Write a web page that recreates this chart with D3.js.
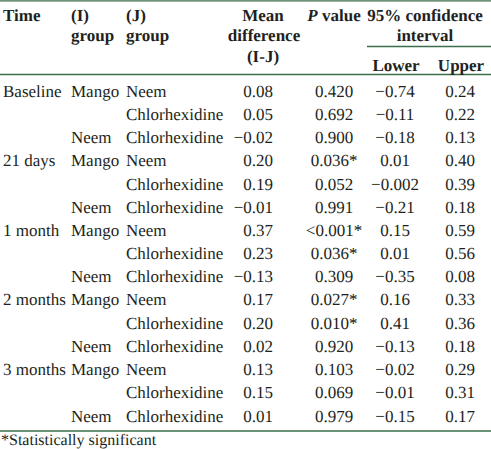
<!DOCTYPE html>
<html><head><meta charset="utf-8">
<script src="https://cdn.jsdelivr.net/npm/d3@7/dist/d3.min.js"></script>
<style>html,body{margin:0;padding:0;background:#fff;}svg{display:block;}</style>
</head><body>
<script>
const timeLabels = ["Baseline","","","21 days","","","1 month","","","2 months","","","3 months","",""];
const iGroups = ["Mango","","Neem","Mango","","Neem","Mango","","Neem","Mango","","Neem","Mango","","Neem"];
const jGroups = ["Neem","Chlorhexidine","Chlorhexidine","Neem","Chlorhexidine","Chlorhexidine","Neem","Chlorhexidine","Chlorhexidine","Neem","Chlorhexidine","Chlorhexidine","Neem","Chlorhexidine","Chlorhexidine"];
const meanDiff = ["0.08","0.05","\u22120.02","0.20","0.19","\u22120.01","0.37","0.23","\u22120.13","0.17","0.20","0.02","0.13","0.15","0.01"];
const pValues = ["0.420","0.692","0.900","0.036*","0.052","0.991","<0.001*","0.036*","0.309","0.027*","0.010*","0.920","0.103","0.069","0.979"];
const lowerCI = ["\u22120.74","\u22120.11","\u22120.18","0.01","\u22120.002","\u22120.21","0.15","0.01","\u22120.35","0.16","0.41","\u22120.13","\u22120.02","\u22120.01","\u22120.15"];
const upperCI = ["0.24","0.22","0.13","0.40","0.39","0.18","0.59","0.56","0.08","0.33","0.36","0.18","0.29","0.31","0.17"];
const footnote = "*Statistically significant";

const W = 491, H = 449;
const ink = "#231f20", rule = "#3b6e4a";
const FONT = "Liberation Serif, Times New Roman, serif";
const FS = 17;
const svg = d3.select("body").append("svg").attr("width", W).attr("height", H)
  .attr("text-rendering", "geometricPrecision");

const y = d3.scaleBand().domain(d3.range(timeLabels.length)).range([79.5, 427.5]);
const base = i => Math.round(y(i) + 17.2);

// rules
const line = (x1, x2, yy) => svg.append("line").attr("x1", x1).attr("x2", x2)
  .attr("y1", yy).attr("y2", yy).attr("stroke", rule).attr("stroke-width", 1.3);
line(0, W, 0.8);
line(367, W, 46.5);
line(0, W, 74.5);
line(0, W, 431);

// header
const hdr = (txt, x, yy, anchor) => svg.append("text").attr("x", x).attr("y", yy)
  .attr("font-family", FONT).attr("font-size", FS)
  .attr("text-anchor", anchor || "start").attr("fill", ink).attr("font-weight", "bold").text(txt);
hdr("Time", 3, 21);
hdr("(I)", 71, 21); hdr("group", 71, 41);
hdr("(J)", 126, 21); hdr("group", 126, 41);
hdr("Mean", 263, 21, "middle"); hdr("difference", 264, 41, "middle"); hdr("(I-J)", 263, 62, "middle");
const pv = svg.append("text").attr("x", 334).attr("y", 21).attr("text-anchor", "middle")
  .attr("font-family", FONT).attr("font-size", FS)
  .attr("fill", ink).attr("font-weight", "bold");
pv.append("tspan").attr("font-style", "italic").text("P");
pv.append("tspan").text(" value");
hdr("95% confidence", 425, 21, "middle"); hdr("interval", 425, 41, "middle");
hdr("Lower", 396, 71, "middle"); hdr("Upper", 461, 71, "middle");

// body
const col = (arr, x, anchor) => svg.append("g").selectAll("text").data(arr).join("text")
  .attr("x", x).attr("y", (d, i) => base(i)).attr("text-anchor", anchor)
  .attr("font-family", FONT).attr("font-size", FS)
  .attr("fill", ink).text(d => d);
col(timeLabels, 3, "start");
col(iGroups, 71, "start");
col(jGroups, 126, "start");
col(meanDiff, 273, "end");
col(pValues, 334, "middle");
col(lowerCI, 395, "middle");
col(upperCI, 460, "middle");

svg.append("text").attr("x", 1).attr("y", 445).attr("fill", ink)
  .attr("font-family", FONT).attr("font-size", 16).text(footnote);
</script>
</body></html>
